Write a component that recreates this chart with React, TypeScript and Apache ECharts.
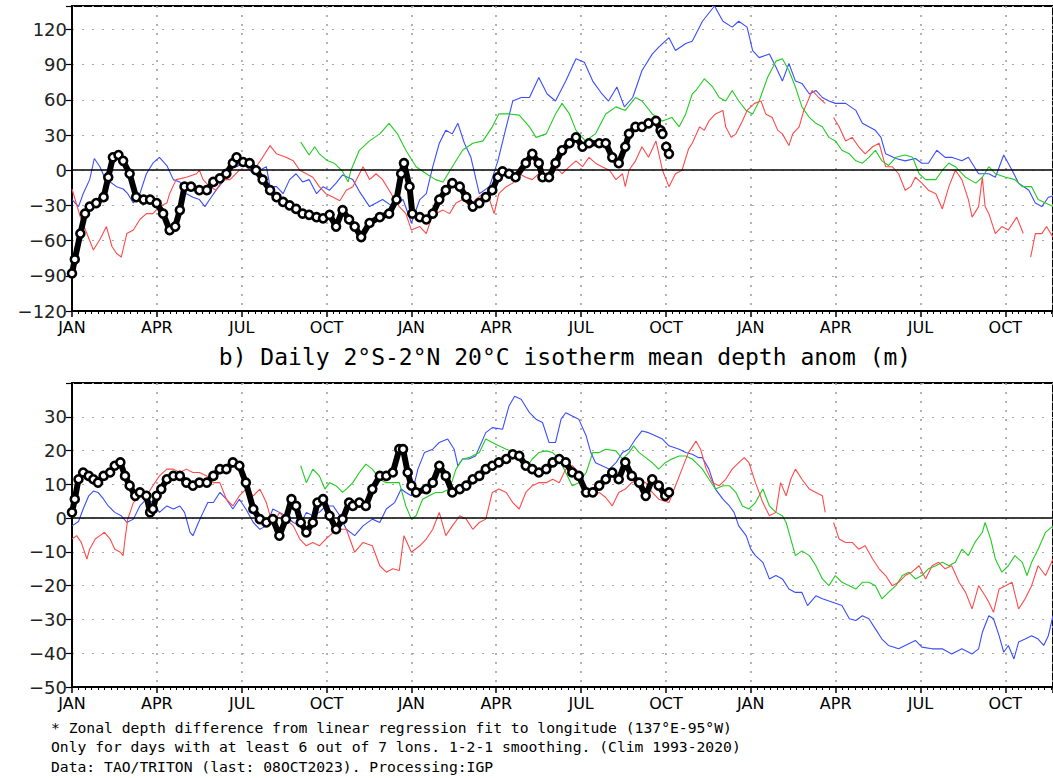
import React, { useEffect, useRef } from "react";
import * as echarts from "echarts";

// ---------- tick labels ----------
const seasonLabels = ["JAN", "APR", "JUL", "OCT"];
const seasonStep = 91.25; // days between season ticks
const dayMax = 1055;

const titleB = "b) Daily 2°S-2°N 20°C isotherm mean depth anom (m)";
const footnotes = [
  "* Zonal depth difference from linear regression fit to longitude (137°E-95°W)",
  "Only for days with at least 6 out of 7 lons. 1-2-1 smoothing. (Clim 1993-2020)",
  "Data: TAO/TRITON (last: 08OCT2023). Processing:IGP",
];

// ---------- panel a (top): [day since Jan 1 of year 1, anomaly m] ----------
const topBlue = [
  [0,-25],[7,-31],[12,-20],[19,-8],[24,10],[30,3],[35,-6],[41,-10],[48,-14],[55,-16],[60,-20],[66,-28],[73,-20],[80,-3],[87,6],[94,11],[102,4],[109,-8],[116,-10],[123,-20],[130,-23],[137,-25],[143,-31],[148,-25],[155,-17],[162,-10],[170,4],[177,3],[184,6],[195,-3],[202,0],[209,3],[213,-14],[220,-14],[227,-20],[234,-8],[241,-3],[248,-10],[255,-8],[263,-20],[270,-14],[277,-17],[284,-11],[291,-4],[302,-8],[309,-18],[320,-31],[334,-25],[345,-31],[356,-25],[365,-45],[374,-25],[381,-20],[388,3],[395,23],[402,34],[409,31],[415,40],[422,23],[429,11],[438,-20],[449,-14],[458,8],[467,37],[474,59],[483,62],[492,62],[502,79],[511,65],[520,59],[531,76],[542,95],[551,92],[560,76],[570,65],[577,59],[586,71],[594,54],[603,62],[613,85],[624,99],[631,105],[642,113],[649,102],[660,108],[667,110],[678,127],[691,140],[700,127],[710,122],[717,127],[726,122],[732,102],[739,96],[750,99],[757,88],[764,76],[771,91],[778,76],[785,74],[793,65],[800,68],[807,62],[814,59],[821,57],[832,57],[843,51],[850,40],[864,34],[870,28],[875,14],[886,10],[896,8],[907,10],[914,6],[921,6],[930,17],[939,11],[946,11],[957,8],[964,11],[975,-3],[986,-3],[993,-6],[1002,13],[1011,0],[1018,-11],[1029,-17],[1036,-28],[1043,-31],[1050,-23],[1055,-22],
];
const topGreen = [
  [246,24],[255,13],[261,20],[266,14],[275,8],[282,6],[291,-1],[297,-10],[300,0],[309,17],[320,25],[331,31],[341,40],[350,31],[359,17],[370,3],[381,-3],[391,-8],[399,-10],[409,3],[420,17],[431,23],[442,25],[452,37],[459,48],[470,48],[481,47],[492,37],[499,28],[510,31],[520,48],[527,57],[535,48],[542,34],[552,25],[563,31],[574,48],[585,54],[595,51],[606,62],[613,59],[624,48],[635,42],[645,45],[653,37],[660,48],[667,65],[671,68],[680,78],[689,71],[696,62],[703,59],[710,68],[717,59],[725,51],[732,48],[739,59],[748,79],[757,93],[764,95],[771,85],[778,71],[785,54],[793,45],[800,40],[807,37],[814,28],[821,25],[828,17],[836,14],[843,8],[850,6],[857,11],[864,17],[871,8],[878,4],[886,11],[896,13],[904,11],[911,-3],[918,-8],[929,-8],[936,0],[943,6],[950,3],[961,-6],[972,-11],[979,-6],[986,3],[993,-3],[1004,-6],[1014,-8],[1022,-14],[1032,-14],[1039,-25],[1047,-28],[1055,-31],
];
const topRed = [
  [0,-16],[9,-40],[16,-54],[23,-68],[30,-59],[37,-48],[43,-65],[48,-71],[53,-74],[59,-54],[66,-51],[73,-42],[80,-37],[87,-37],[94,-31],[102,-28],[105,-20],[112,-8],[123,-6],[134,-3],[137,0],[141,-8],[148,-14],[155,-17],[162,-8],[170,-8],[180,0],[187,0],[198,3],[205,11],[213,21],[220,14],[230,11],[238,8],[245,0],[252,-3],[259,-6],[266,-14],[273,-20],[281,-23],[288,-26],[295,-17],[302,-14],[306,-8],[313,3],[320,-8],[327,-3],[334,-8],[341,-17],[347,-25],[352,-31],[359,-37],[365,-51],[374,-48],[381,-54],[386,-42],[391,-37],[399,-34],[406,-37],[413,-28],[420,-25],[429,-31],[434,-25],[442,-20],[449,-25],[454,-37],[459,-20],[467,-14],[474,-11],[481,-3],[488,-6],[495,-8],[502,-3],[510,-6],[520,3],[527,-3],[535,3],[542,8],[549,3],[556,11],[563,6],[570,3],[578,0],[585,-8],[592,-3],[595,-14],[599,0],[606,8],[613,20],[620,11],[628,25],[635,0],[642,-14],[649,-3],[656,0],[663,18],[667,23],[675,37],[680,34],[685,42],[692,48],[700,51],[703,37],[709,28],[714,31],[721,42],[726,51],[734,57],[741,59],[746,48],[753,45],[759,34],[764,31],[771,21],[775,31],[782,37],[787,51],[793,62],[796,68],[803,62],[810,57],[814,null],[819,45],[825,37],[832,25],[839,28],[846,20],[853,14],[861,20],[868,23],[875,3],[882,3],[889,-3],[896,-17],[902,-14],[907,-6],[914,-11],[921,-17],[929,-20],[936,-33],[943,-14],[950,0],[957,-8],[964,-25],[968,-40],[975,-31],[979,-6],[982,-31],[986,-37],[993,-54],[1000,-48],[1007,-51],[1016,-40],[1023,-54],[1027,null],[1031,-74],[1036,-54],[1043,-54],[1048,-48],[1055,-57],
];
const topBlack = [
  [0,-88],[3,-76],[9,-54],[14,-37],[19,-31],[26,-28],[34,-23],[39,-6],[44,11],[50,13],[55,8],[62,-3],[69,-23],[77,-25],[84,-25],[91,-28],[98,-37],[105,-51],[111,-48],[116,-34],[121,-14],[128,-14],[137,-17],[145,-17],[152,-10],[159,-7],[166,-3],[173,6],[177,11],[184,7],[191,6],[198,0],[205,-8],[213,-17],[220,-23],[227,-27],[234,-30],[241,-33],[248,-37],[255,-38],[263,-40],[270,-41],[277,-38],[284,-48],[291,-34],[298,-42],[304,-48],[311,-57],[320,-45],[331,-40],[341,-37],[349,-25],[354,-3],[357,6],[363,-14],[366,-37],[374,-40],[381,-42],[388,-37],[395,-25],[402,-17],[409,-11],[417,-14],[424,-23],[431,-31],[438,-28],[445,-23],[452,-17],[458,-6],[463,-1],[470,-3],[477,-6],[488,6],[495,14],[502,6],[506,-6],[513,-6],[520,6],[527,17],[535,23],[542,28],[549,20],[556,23],[567,23],[574,23],[581,11],[588,6],[595,20],[599,31],[606,37],[613,37],[620,40],[628,42],[633,34],[635,31],[637,null],[639,20],[642,14],
];

// ---------- panel b (bottom) ----------
const botBlue = [
  [0,-2.3],[7,-1],[12,2.7],[18,6.6],[23,8],[28,7.6],[34,5.6],[39,3.6],[46,1.7],[53,0.7],[59,-1.3],[66,-0.3],[73,3.6],[80,5.6],[87,4.6],[94,1.7],[102,3.6],[109,2.7],[116,3.6],[121,1.7],[127,-4.2],[130,-5.2],[136,-1.3],[141,1.7],[146,4.6],[152,4.6],[159,7.6],[166,5.6],[173,2.7],[180,5.6],[187,2.7],[195,-1.3],[202,-3.3],[209,-2.3],[216,2.7],[223,1.7],[230,0.7],[238,-1.3],[245,-2.3],[252,1.7],[259,0.7],[266,1.7],[273,3.6],[281,3.6],[288,0.7],[295,-3.3],[304,-5.2],[313,-2.3],[323,-0.3],[331,-1.3],[338,2.7],[347,4.6],[354,8.6],[359,7.6],[365,6.6],[372,14.5],[379,19.4],[388,20.4],[395,22.4],[404,23.4],[411,20.4],[415,15.5],[420,17.5],[427,17.5],[434,18.4],[445,25.3],[452,26.8],[463,26.3],[470,33.2],[476,36.1],[483,35.2],[492,31.2],[499,29.3],[506,28.3],[513,22.4],[520,22.4],[526,29.3],[531,31.2],[538,30.2],[545,29.3],[553,24.3],[558,19.4],[563,16.4],[570,15.5],[578,14.5],[585,16.4],[592,19.4],[599,20.4],[606,23.4],[613,25.8],[620,25.3],[628,24.3],[635,23.4],[642,21.4],[653,20.4],[660,19.4],[667,18.9],[674,17.9],[678,17.9],[685,14.5],[692,8.6],[700,5.6],[707,3.6],[712,1.7],[717,-2.3],[725,-5.2],[730,-9.2],[735,-11.1],[743,-13.1],[750,-18],[757,-17],[764,-18],[771,-21],[778,-22],[785,-22],[791,-25.9],[800,-23],[807,-23.9],[818,-24.9],[828,-25.9],[836,-29.8],[843,-30.3],[850,-28.9],[857,-29.8],[864,-32.8],[871,-35.8],[878,-37.7],[889,-38.7],[896,-37.7],[907,-36.2],[914,-38.2],[925,-38.7],[936,-38.7],[946,-40.2],[957,-38.7],[968,-40.2],[975,-38.7],[979,-33.8],[986,-28.9],[991,-29.8],[997,-34.8],[1002,-39.7],[1007,-37.7],[1013,-41.7],[1018,-36.7],[1025,-35.8],[1032,-34.8],[1039,-35.8],[1045,-37.7],[1050,-34.8],[1055,-28.9],
];
const botGreen = [
  [246,15.5],[252,10.5],[259,14.5],[266,12.5],[272,8.6],[277,10.5],[284,9.6],[291,7.6],[295,8.6],[302,10.5],[309,13.5],[316,16],[323,14.5],[331,11.5],[338,10.5],[345,10.5],[352,10.5],[359,3.6],[365,-0.3],[370,0.7],[377,5.6],[384,6.6],[391,7.6],[398,7.6],[406,8.6],[413,14.5],[420,17.5],[427,17.9],[438,19.4],[445,23.4],[452,22.4],[459,21.4],[467,20.4],[477,19.4],[490,15.5],[495,17.5],[502,19.4],[510,19.9],[517,19.4],[524,17.5],[531,13.5],[538,9.6],[545,10.5],[553,13.5],[560,19.4],[567,19.4],[574,20.4],[585,19.9],[592,17.5],[599,19.4],[604,21.4],[610,19.4],[617,17.9],[624,16.4],[631,14.5],[638,16.4],[645,17.5],[653,18.4],[660,18.4],[667,17.5],[671,16.4],[678,14.5],[685,11.5],[692,8.6],[700,9.6],[707,9.6],[714,7.6],[721,3.6],[728,2.7],[735,4.6],[743,8.6],[750,3.6],[757,1.7],[764,0.7],[768,-1.3],[771,-4.2],[778,-11.1],[785,-9.7],[793,-11.1],[800,-14.1],[807,-18],[814,-20],[821,-17],[828,-19],[836,-20],[843,-21],[850,-19],[857,-19],[864,-20],[871,-23.9],[878,-22],[886,-20],[893,-17],[900,-16],[907,-18],[914,-17],[921,-15],[929,-14.1],[936,-13.1],[943,-14.1],[950,-13.1],[957,-9.2],[964,-11.1],[971,-7.2],[979,-4.2],[982,-1.3],[988,-6.2],[993,-12.1],[1000,-16],[1007,-14.1],[1014,-11.1],[1022,-13.1],[1027,-17],[1032,-13.1],[1039,-9.2],[1047,-4.2],[1055,-2.3],
];
const botRed = [
  [0,-6.2],[5,-5.2],[10,-7.2],[16,-12.1],[19,-9.2],[25,-6.2],[30,-5.2],[35,-4.2],[41,-6.2],[46,-9.2],[52,-10.1],[55,-11.1],[57,-6.2],[60,-0.3],[66,4.6],[73,6.6],[80,6.6],[87,9.6],[94,12.5],[102,14.5],[109,14.5],[116,13.5],[123,14.5],[130,13.5],[137,13.5],[145,12.5],[152,10.5],[159,10.5],[166,5.6],[173,3.6],[180,6.6],[187,8.6],[195,6.6],[202,8.6],[209,4.6],[216,-2.3],[223,1.7],[230,-0.3],[238,-2.3],[245,-6.2],[252,-8.2],[259,-7.2],[266,-8.2],[273,-6.2],[281,-4.2],[288,-3.3],[295,-3.3],[304,-10.1],[313,-7.2],[323,-8.2],[331,-14.1],[338,-16],[345,-15],[352,-15.5],[357,-5.2],[365,-10.1],[374,-8.2],[381,-6.2],[388,-3.3],[395,1.7],[402,-5.2],[409,-2.3],[417,0.7],[424,-0.3],[431,-3.3],[438,-1.3],[445,-0.3],[452,7.6],[459,8.6],[467,7.6],[474,4.6],[481,2.7],[488,7.6],[495,9.6],[502,10.5],[510,10.5],[517,11.5],[524,10.5],[531,14.5],[538,15.5],[545,13.5],[553,8.6],[560,6.6],[567,7.6],[574,6.1],[581,3.6],[588,7.6],[595,8.6],[602,10.5],[610,11.5],[617,10.5],[624,7.6],[631,5.6],[642,4.6],[649,9.6],[656,14.5],[663,19.4],[671,22.8],[676,20.4],[682,14.5],[689,10.5],[696,9.6],[703,11.5],[710,14.5],[717,16.4],[723,17.9],[728,16.4],[735,10.5],[743,4.6],[750,0.7],[757,1.7],[762,10.5],[768,6.6],[773,11.5],[778,14.5],[785,11.5],[793,8.6],[800,7.6],[807,6.6],[810,1.7],[814,null],[819,-1.3],[825,-6.2],[832,-7.2],[839,-7.2],[846,-9.2],[853,-8.2],[861,-12.1],[868,-15],[875,-17],[882,-20],[889,-19],[896,-17],[903,-16],[911,-14.1],[918,-18],[925,-14.1],[932,-13.1],[939,-15],[946,-14.1],[954,-19],[961,-22],[968,-26.9],[975,-20],[982,-23],[986,-24.9],[991,-27.9],[997,-21],[1004,-20],[1011,-19],[1018,-26.9],[1025,-23.9],[1032,-20],[1039,-14.1],[1047,-17],[1055,-12.1],
];
const botBlack = [
  [0,1.7],[3,5.6],[7,11.5],[12,13.5],[18,12.5],[23,11.5],[28,10.5],[34,12.5],[41,13.5],[46,15.5],[52,16.5],[57,12.5],[62,9.6],[68,6.6],[73,7.6],[80,6.6],[84,1.7],[87,2.7],[91,6.6],[96,8.6],[102,11.5],[109,12.5],[116,12.5],[123,10.5],[130,9.6],[137,10.5],[145,10.5],[152,12.5],[159,14.5],[166,14.5],[173,16.5],[180,15.5],[187,10.5],[195,2.7],[202,-0.3],[209,-1.3],[216,-0.3],[223,-5.2],[230,-0.3],[236,5.6],[241,3.6],[246,-1.3],[252,-4.2],[259,-1.3],[264,4.6],[270,5.6],[277,0.7],[284,-3.3],[291,-0.3],[298,4.6],[302,3.6],[309,4.6],[316,3.6],[323,8.6],[331,12.5],[338,12.5],[345,13.5],[352,20.4],[356,20.4],[361,13.5],[365,9.6],[370,7.6],[381,8.6],[388,10.5],[395,15.5],[402,12.5],[409,7.6],[417,8.6],[424,9.6],[431,11.5],[438,12.5],[445,14.5],[452,15.5],[459,16.5],[467,17.5],[474,18.9],[481,18.4],[488,15.5],[495,14.5],[502,13.5],[510,14.5],[517,16.5],[524,17.5],[531,16.5],[538,13.5],[545,12.5],[553,7.6],[560,7.6],[567,9.6],[574,11.5],[581,13.5],[588,11.5],[595,16.5],[602,12.5],[610,10.5],[617,6.6],[624,11.5],[631,9.6],[638,6.6],[642,7.6],
];

const colors = { blue: "#3a4dff", green: "#22cc22", red: "#ff4a4a", black: "#000000" };
const fontFamily = "'DejaVu Sans', sans-serif";
const monoFamily = "'DejaVu Sans Mono', 'Liberation Mono', monospace";

function fmtNum(v: number) {
  return v < 0 ? "\u2212" + Math.abs(v) : String(v);
}

function xLabel(v: number) {
  const k = v / seasonStep;
  const r = Math.round(k);
  if (Math.abs(k - r) > 0.01) return "";
  return seasonLabels[((r % 4) + 4) % 4];
}

function xAxisCfg(gridIndex: number) {
  return {
    type: "value",
    gridIndex,
    min: 0,
    max: dayMax,
    interval: seasonStep,
    axisLine: { show: true, onZero: false, lineStyle: { color: "#000", width: 2 } },
    axisTick: { show: true, length: 6, lineStyle: { color: "#000", width: 1.5 } },
    minorTick: { show: true, splitNumber: 13, length: 3, lineStyle: { color: "#000", width: 1 } },
    splitLine: { show: true, lineStyle: { color: "#a0a0a0", type: [2, 7], width: 1.6 } },
    axisLabel: {
      formatter: xLabel,
      fontSize: 16,
      color: "#000",
      margin: 8,
      fontFamily,
      showMaxLabel: false,
    },
  };
}

function yAxisCfg(gridIndex: number, min: number, max: number, step: number) {
  return {
    type: "value",
    gridIndex,
    min,
    max,
    interval: step,
    axisLine: { show: true, onZero: false, lineStyle: { color: "#000", width: 2 } },
    axisTick: { show: true, length: 6, lineStyle: { color: "#000", width: 1.2 } },
    splitLine: { show: true, lineStyle: { color: "#a8a8a8", type: [2, 8], width: 1.2 } },
    axisLabel: {
      formatter: (v: number) => (v % step === 0 && v < max ? fmtNum(v) : ""),
      fontSize: 18,
      color: "#222",
      margin: 5,
      fontFamily,
    },
  };
}

function thin(data: any[], color: string, gi: number, zeroLine = false) {
  const s: any = {
    type: "line",
    xAxisIndex: gi,
    yAxisIndex: gi,
    data,
    showSymbol: false,
    connectNulls: false,
    lineStyle: { color, width: 1.1 },
    itemStyle: { color },
    emphasis: { disabled: true },
    z: 3,
  };
  if (zeroLine) {
    s.markLine = {
      silent: true,
      symbol: "none",
      label: { show: false },
      lineStyle: { color: "#000", width: 1.5, type: "solid" },
      data: [{ yAxis: 0 }],
    };
  }
  return s;
}

function thick(data: any[], gi: number) {
  return {
    type: "line",
    xAxisIndex: gi,
    yAxisIndex: gi,
    data,
    showSymbol: true,
    showAllSymbol: true,
    symbol: "circle",
    symbolSize: 8,
    connectNulls: false,
    lineStyle: { color: "#000", width: 6 },
    itemStyle: { color: "#fff", borderColor: "#000", borderWidth: 2.6 },
    emphasis: { disabled: true },
    z: 6,
  };
}

export default function App() {
  const ref = useRef<HTMLDivElement>(null);
  useEffect(() => {
    if (!ref.current) return;
    const chart = echarts.init(ref.current, null, { renderer: "svg" });
    const option: any = {
      animation: false,
      backgroundColor: "#fff",
      grid: [
        { left: 72, top: 6, width: 983, height: 305, show: true, borderColor: "#000", borderWidth: 2 },
        { left: 72, top: 383, width: 983, height: 304, show: true, borderColor: "#000", borderWidth: 2 },
      ],
      xAxis: [xAxisCfg(0), xAxisCfg(1)],
      yAxis: [yAxisCfg(0, -120, 140, 30), yAxisCfg(1, -50, 40, 10)],
      series: [
        thin(topBlue, colors.blue, 0, true),
        thin(topGreen, colors.green, 0),
        thin(topRed, colors.red, 0),
        thick(topBlack, 0),
        thin(botBlue, colors.blue, 1, true),
        thin(botGreen, colors.green, 1),
        thin(botRed, colors.red, 1),
        thick(botBlack, 1),
      ],
      graphic: [
        {
          type: "text",
          x: 565,
          y: 357,
          style: {
            text: titleB,
            fontSize: 23,
            fontFamily: monoFamily,
            fill: "#000",
            textAlign: "center",
            textVerticalAlign: "middle",
          },
        },
        ...footnotes.map((t, i) => ({
          type: "text",
          x: 51,
          y: 727 + i * 19.5,
          style: {
            text: t,
            fontSize: 14.7,
            fontFamily: monoFamily,
            fill: "#000",
            textAlign: "left",
            textVerticalAlign: "middle",
          },
        })),
      ],
    };
    chart.setOption(option);
    return () => chart.dispose();
  }, []);
  return (
    <div
      ref={ref}
      style={{ position: "fixed", left: 0, top: 0, width: 1053, height: 778, background: "#fff" }}
    />
  );
}
